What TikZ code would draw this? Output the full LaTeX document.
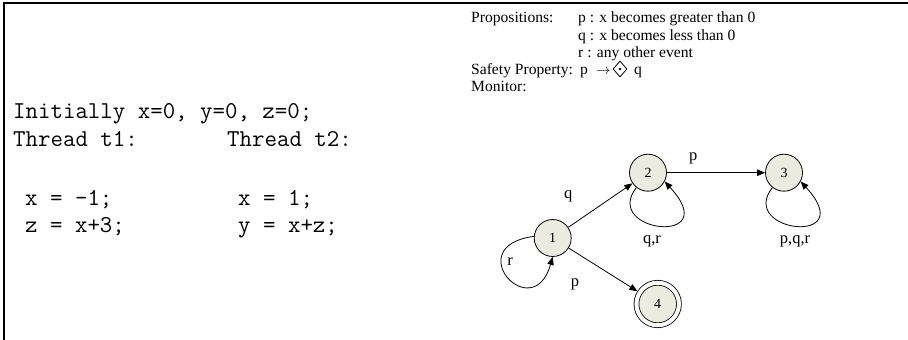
\documentclass[tikz,border=0pt]{standalone}
\usepackage{fontspec}
\setmainfont{Liberation Serif}
\usetikzlibrary{arrows.meta,shapes.geometric}
\definecolor{statefill}{RGB}{235,235,224}
\begin{document}
\begin{tikzpicture}[x=1pt,y=1pt,
  code/.style={font=\fontsize{24.2}{28}\ttfamily, anchor=base west, inner sep=0},
  prop/.style={font=\fontsize{15.6}{18}\selectfont, anchor=base west, inner sep=0},
  state/.style={circle, draw, line width=0.8pt, fill=statefill, minimum size=37pt, inner sep=0, font=\fontsize{14}{16}\selectfont},
  accept/.style={state, double, double distance=4pt, minimum size=42.5pt, outer sep=2.8pt},
  edgelbl/.style={font=\fontsize{16.5}{20}\selectfont, inner sep=0},
  trans/.style={-{Triangle[length=8pt,width=6.5pt]}, line width=0.8pt},
]
\useasboundingbox (0,0) rectangle (908,-340);
\draw[line width=2.4pt] (3.8,-340) -- (3.8,-2.8) -- (908,-2.8);

\node[code] (init) at (13,-118) {Initially x=0, y=0, z=0;};
\node[code] (t1) at (13,-146) {Thread t1:};
\node[code] (t2) at (227,-146) {Thread t2:};
\node[code] (a1) at (25,-205) {x = -1;};
\node[code] (a2) at (25,-232) {z = x+3;};
\node[code] (b1) at (238,-205) {x = 1;};
\node[code] (b2) at (238,-232) {y = x+z;};

\node[prop] (propl) at (471,-23) {Propositions:};
\node[prop] (pp) at (578,-23) {p : x becomes greater than 0};
\node[prop] (pq) at (578,-40) {q : x becomes less than 0};
\node[prop] (pr) at (578,-57) {r : any other event};
\node[prop] (safe) at (471,-74) {Safety Property:};
\node[prop] (sp) at (580,-74) {p};
\node[prop] (sarr) at (596,-74) {$\rightarrow$};
\node[diamond, draw, line width=0.8pt, minimum width=14pt, minimum height=16pt, inner sep=0] (dia) at (620,-69) {};
\fill (dia.center) circle (1.3pt);
\node[prop] (sq) at (634,-74) {q};
\node[prop] (mon) at (471,-91) {Monitor:};

\node[state] (n1) at (552.7,-238) {1};
\node[state] (n2) at (648,-172.7) {2};
\node[state] (n3) at (784,-172.7) {3};
\node[accept] (n4) at (657.7,-304) {4};
\draw[trans] (n1) -- (n2);
\draw[trans] (n2) -- (n3);
\draw[trans] (n1) -- (n4);
\draw[trans] (n2.232) .. controls +(-35,-45) and +(60,-65) .. (n2.-28);
\draw[trans] (n3.232) .. controls +(-35,-45) and +(60,-65) .. (n3.-28);
\draw[trans] (n1.175) .. controls +(-75,-10) and +(-20,-70) .. (n1.-90);

\node[edgelbl] (lq) at (568.3,-196.7) {q};
\node[edgelbl] (lp23) at (693.3,-158.3) {p};
\node[edgelbl] (lp14) at (575,-284) {p};
\node[edgelbl] (lr) at (510,-261.7) {r};
\node[edgelbl] (lqr) at (652,-241.7) {q,r};
\node[edgelbl] (lpqr) at (795,-241.7) {p,q,r};
\end{tikzpicture}
\end{document}
